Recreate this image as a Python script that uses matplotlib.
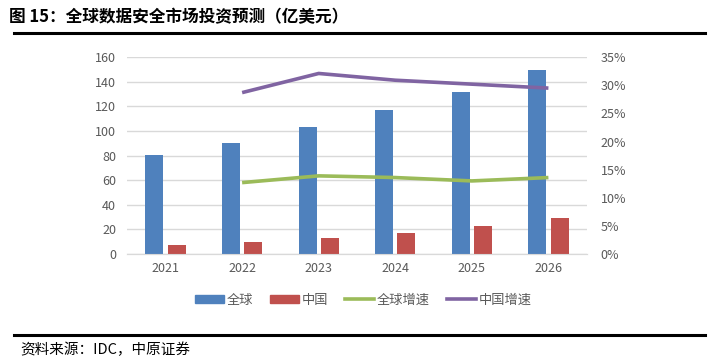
import numpy as np
import matplotlib
matplotlib.use('Agg')
import matplotlib.pyplot as plt
from matplotlib.ticker import FuncFormatter
from matplotlib.lines import Line2D
from matplotlib.patches import Patch

plt.rcParams['font.family'] = ['Noto Sans CJK SC', 'DejaVu Sans']

years = ['2021', '2022', '2023', '2024', '2025', '2026']
global_mkt = [80.2, 90.4, 102.9, 116.7, 131.6, 149.5]
china_mkt = [7.6, 9.7, 12.7, 17.1, 22.5, 29.0]
# growth rates start in 2022
global_growth = [np.nan, 12.7, 13.9, 13.6, 13.0, 13.6]
china_growth = [np.nan, 28.7, 32.1, 30.9, 30.2, 29.5]

BLUE = '#4F81BD'
RED = '#C0504D'
GREEN = '#9BBB59'
PURPLE = '#8064A2'
GREY = '#595959'

fig = plt.figure(figsize=(7.19, 3.64), dpi=100)
ax = fig.add_axes([0.177, 0.302, 0.639, 0.541])
ax2 = ax.twinx()

x = np.arange(len(years))
w = 0.235
ax.bar(x - 0.145, global_mkt, w, color=BLUE, zorder=3)
ax.bar(x + 0.145, china_mkt, w, color=RED, zorder=3)

ax2.plot(x, global_growth, color=GREEN, lw=2.6, solid_capstyle='butt')
ax2.plot(x, china_growth, color=PURPLE, lw=2.6, solid_capstyle='butt')

ax.set_xlim(-0.5, 5.5)
ax.set_ylim(0, 160)
ax.set_yticks(range(0, 161, 20))
ax2.set_ylim(0, 35)
ax2.set_yticks(range(0, 36, 5))
ax2.yaxis.set_major_formatter(FuncFormatter(lambda v, p: f'{v:.0f}%'))
ax.set_xticks(x)
ax.set_xticklabels(years)

ax.grid(axis='y', color='#d9d9d9', lw=1, zorder=0)
for a in (ax, ax2):
    for s in ('top', 'left', 'right'):
        a.spines[s].set_visible(False)
    a.spines['bottom'].set_color('#d9d9d9')
    a.tick_params(length=0, labelsize=9, labelcolor=GREY)
ax.tick_params(axis='x', pad=6)
ax.tick_params(axis='y', pad=8)
ax2.tick_params(axis='y', pad=10)

handles = [Patch(color=BLUE), Patch(color=RED),
           Line2D([], [], color=GREEN, lw=2.6),
           Line2D([], [], color=PURPLE, lw=2.6)]
labels = ['全球', '中国', '全球增速', '中国增速']
leg = fig.legend(handles, labels, loc='center', bbox_to_anchor=(0.505, 0.175), ncol=4,
                 frameon=False, fontsize=9.5, handlelength=2.2, handleheight=0.6,
                 columnspacing=1.3, handletextpad=0.2)
for t in leg.get_texts():
    t.set_color(GREY)

fig.text(0.012, 0.953, '图 15：全球数据安全市场投资预测（亿美元）', fontsize=12,
         fontweight='bold', va='center', ha='left')
fig.add_artist(Line2D([0.02, 0.98], [0.908, 0.908], color='black', lw=2.2))
fig.add_artist(Line2D([0.02, 0.98], [0.08, 0.08], color='black', lw=2.2))
fig.text(0.028, 0.04, '资料来源：IDC，中原证券', fontsize=10.5, va='center', ha='left')

fig.savefig('out.png', dpi=100)
